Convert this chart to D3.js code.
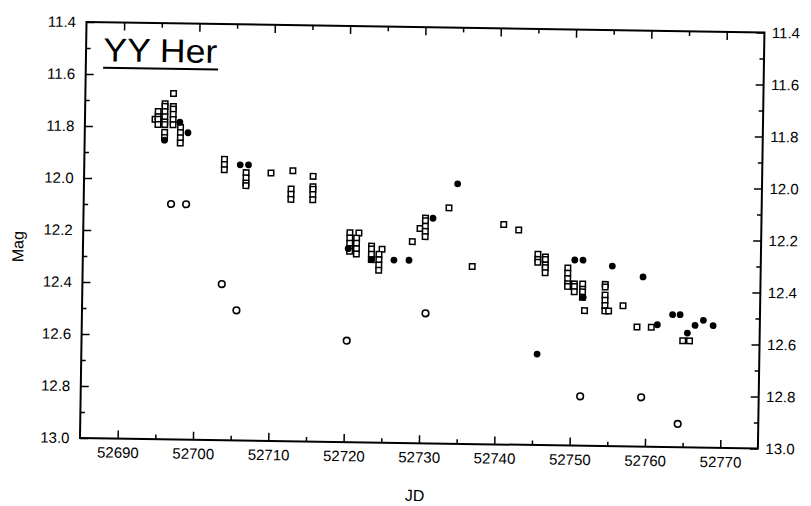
<!DOCTYPE html>
<html>
<head>
<meta charset="utf-8">
<script src="https://cdn.jsdelivr.net/npm/d3@7"></script>
<style>
  body { margin: 0; background: #fff; }
  text { font-family: "Liberation Sans", Arial, sans-serif; fill: #000; }
</style>
</head>
<body>
<svg id="chart" width="811" height="506"></svg>
<script>
// Light curve of YY Her: Julian Date vs. magnitude
const titleText = "YY Her";
const xLabel = "JD";
const yLabel = "Mag";

const jdDomain = [52685, 52775];
const magDomain = [11.4, 13.0];
const jdMajorTicks = [52690, 52700, 52710, 52720, 52730, 52740, 52750, 52760, 52770];
const jdMinorTicks = [52695, 52705, 52715, 52725, 52735, 52745, 52755, 52765];
const magMajorTicks = [11.4, 11.6, 11.8, 12.0, 12.2, 12.4, 12.6, 12.8, 13.0];
const magMinorTicks = [11.5, 11.7, 11.9, 12.1, 12.3, 12.5, 12.7, 12.9];

// open squares: [JD, mag]
const squareObs = [
  [52694.3, 11.77],
  [52694.7, 11.74], [52694.7, 11.76], [52694.7, 11.77], [52694.7, 11.79],
  [52695.6, 11.71], [52695.6, 11.72], [52695.6, 11.74], [52695.6, 11.76], [52695.6, 11.78],
  [52695.6, 11.79], [52695.6, 11.82], [52695.6, 11.84],
  [52696.7, 11.67], [52696.7, 11.72], [52696.7, 11.73], [52696.7, 11.75], [52696.7, 11.77], [52696.7, 11.79],
  [52697.7, 11.80], [52697.7, 11.82], [52697.7, 11.84], [52697.7, 11.86],
  [52703.6, 11.92], [52703.6, 11.94], [52703.6, 11.96],
  [52706.5, 11.97], [52706.5, 11.99], [52706.5, 12.01], [52706.5, 12.02],
  [52709.8, 11.97],
  [52712.7, 11.96],
  [52712.5, 12.03], [52712.5, 12.05], [52712.5, 12.07],
  [52715.4, 11.98], [52715.4, 12.02], [52715.4, 12.03], [52715.4, 12.05], [52715.4, 12.07],
  [52720.4, 12.195], [52721.6, 12.195], [52720.4, 12.215], [52721.3, 12.215], [52720.4, 12.235],
  [52721.3, 12.235], [52720.4, 12.256], [52721.3, 12.256], [52720.4, 12.266], [52721.3, 12.276],
  [52723.3, 12.245], [52723.3, 12.256], [52723.3, 12.276], [52723.3, 12.297],
  [52724.7, 12.256],
  [52724.3, 12.276], [52724.3, 12.297], [52724.3, 12.317], [52724.3, 12.337],
  [52728.7, 12.225],
  [52729.7, 12.174],
  [52730.4, 12.134], [52730.4, 12.144], [52730.4, 12.165], [52730.4, 12.185], [52730.4, 12.205],
  [52733.5, 12.093],
  [52736.7, 12.317],
  [52740.8, 12.154],
  [52742.8, 12.174],
  [52745.4, 12.266], [52745.4, 12.286], [52745.4, 12.297],
  [52746.4, 12.276], [52746.4, 12.286], [52746.4, 12.307], [52746.4, 12.317], [52746.4, 12.337],
  [52749.4, 12.317], [52749.4, 12.337], [52749.4, 12.358], [52749.4, 12.378], [52749.4, 12.388],
  [52750.3, 12.378], [52750.3, 12.388], [52750.3, 12.408],
  [52751.4, 12.378], [52751.4, 12.398], [52751.4, 12.408], [52751.4, 12.429],
  [52751.7, 12.48],
  [52754.4, 12.378], [52754.4, 12.388], [52754.4, 12.419], [52754.4, 12.439], [52754.4, 12.459], [52754.4, 12.48],
  [52754.9, 12.48],
  [52756.8, 12.459],
  [52758.7, 12.54],
  [52760.6, 12.54],
  [52764.8, 12.59], [52765.7, 12.59]
];

// filled circles: [JD, mag]
const filledObs = [
  [52695.6, 11.85], [52697.6, 11.78], [52698.7, 11.82],
  [52705.7, 11.94], [52706.8, 11.94],
  [52720.2, 12.256],
  [52723.3, 12.297],
  [52726.3, 12.297], [52728.3, 12.297],
  [52731.4, 12.134],
  [52734.6, 12.00],
  [52745.5, 12.65],
  [52750.3, 12.286], [52751.4, 12.286],
  [52751.5, 12.429],
  [52755.3, 12.307],
  [52759.4, 12.347],
  [52761.4, 12.53],
  [52763.4, 12.49], [52764.4, 12.49],
  [52765.4, 12.56],
  [52766.4, 12.53],
  [52767.5, 12.51],
  [52768.8, 12.53]
];

// open circles: [JD, mag]
const circleObs = [
  [52696.6, 12.095], [52698.6, 12.095],
  [52703.5, 12.40], [52705.5, 12.50],
  [52720.2, 12.61],
  [52730.6, 12.50],
  [52751.3, 12.81], [52759.4, 12.81],
  [52764.3, 12.91]
];

const W = 811, H = 506;
const frame = { left: 83.2, right: 761.2, top: 27.25, bottom: 443.25 };
const cx = (frame.left + frame.right) / 2, cy = (frame.top + frame.bottom) / 2;

const x = d3.scaleLinear().domain(jdDomain).range([frame.left, frame.right]);
const y = d3.scaleLinear().domain(magDomain).range([frame.top, frame.bottom]);
const fmt = d3.format(".1f");

const svg = d3.select("#chart");
svg.append("rect").attr("width", W).attr("height", H).attr("fill", "#fff");

// the whole sheet sits slightly tilted
const g = svg.append("g").attr("transform", `rotate(0.9, ${cx}, ${cy})`);

function styleAxis(sel) {
  sel.select(".domain").remove();
  sel.selectAll(".tick line").attr("stroke", "#000").attr("stroke-width", 1.5);
  sel.selectAll(".tick text").attr("font-size", 15).attr("fill", "#000");
}

const major = 8, minor = 4.5;

// bottom
g.append("g").attr("transform", `translate(0,${frame.bottom})`)
  .call(d3.axisBottom(x).tickValues(jdMajorTicks).tickSize(-major).tickPadding(8.6).tickFormat(d3.format("d")))
  .call(styleAxis);
g.append("g").attr("transform", `translate(0,${frame.bottom})`)
  .call(d3.axisBottom(x).tickValues(jdMinorTicks).tickSize(-minor).tickFormat(""))
  .call(styleAxis);
// top
g.append("g").attr("transform", `translate(0,${frame.top})`)
  .call(d3.axisTop(x).tickValues(jdMajorTicks).tickSize(-major).tickFormat(""))
  .call(styleAxis);
g.append("g").attr("transform", `translate(0,${frame.top})`)
  .call(d3.axisTop(x).tickValues(jdMinorTicks).tickSize(-minor).tickFormat(""))
  .call(styleAxis);
// left
g.append("g").attr("transform", `translate(${frame.left},0)`)
  .call(d3.axisLeft(y).tickValues(magMajorTicks).tickSize(-major).tickPadding(10.5).tickFormat(fmt))
  .call(styleAxis);
g.append("g").attr("transform", `translate(${frame.left},0)`)
  .call(d3.axisLeft(y).tickValues(magMinorTicks).tickSize(-minor).tickFormat(""))
  .call(styleAxis);
// right
g.append("g").attr("transform", `translate(${frame.right},0)`)
  .call(d3.axisRight(y).tickValues(magMajorTicks).tickSize(-major).tickPadding(7.5).tickFormat(fmt))
  .call(styleAxis);
g.append("g").attr("transform", `translate(${frame.right},0)`)
  .call(d3.axisRight(y).tickValues(magMinorTicks).tickSize(-minor).tickFormat(""))
  .call(styleAxis);

// frame
g.append("rect")
  .attr("x", frame.left).attr("y", frame.top)
  .attr("width", frame.right - frame.left).attr("height", frame.bottom - frame.top)
  .attr("fill", "none").attr("stroke", "#000").attr("stroke-width", 2);

// axis titles
g.append("text").attr("x", 418.6).attr("y", 501).attr("text-anchor", "middle")
  .attr("font-size", 16).text(xLabel);
g.append("text").attr("transform", "translate(18,253) rotate(-90)")
  .attr("text-anchor", "middle").attr("dy", "0.35em").attr("font-size", 16).text(yLabel);

// title with underline
g.append("text").attr("x", 100.5).attr("y", 66.2).attr("font-size", 33)
  .attr("textLength", 114).attr("lengthAdjust", "spacingAndGlyphs").text(titleText);
g.append("line").attr("x1", 100.5).attr("x2", 215.5).attr("y1", 72.7).attr("y2", 72.7)
  .attr("stroke", "#000").attr("stroke-width", 2);

// markers
const plot = g.append("g");
plot.selectAll("circle.open").data(circleObs).join("circle").attr("class", "open")
  .attr("cx", d => x(d[0])).attr("cy", d => y(d[1])).attr("r", 3.3)
  .attr("fill", "#fff").attr("stroke", "#000").attr("stroke-width", 1.6);

const sq = 5.5;
plot.selectAll("rect.sq").data(squareObs).join("rect").attr("class", "sq")
  .attr("x", d => x(d[0]) - sq / 2).attr("y", d => y(d[1]) - sq / 2)
  .attr("width", sq).attr("height", sq)
  .attr("fill", "#fff").attr("stroke", "#000").attr("stroke-width", 1.5);

plot.selectAll("circle.filled").data(filledObs).join("circle").attr("class", "filled")
  .attr("cx", d => x(d[0])).attr("cy", d => y(d[1])).attr("r", 3.4)
  .attr("fill", "#000");
</script>
</body>
</html>
